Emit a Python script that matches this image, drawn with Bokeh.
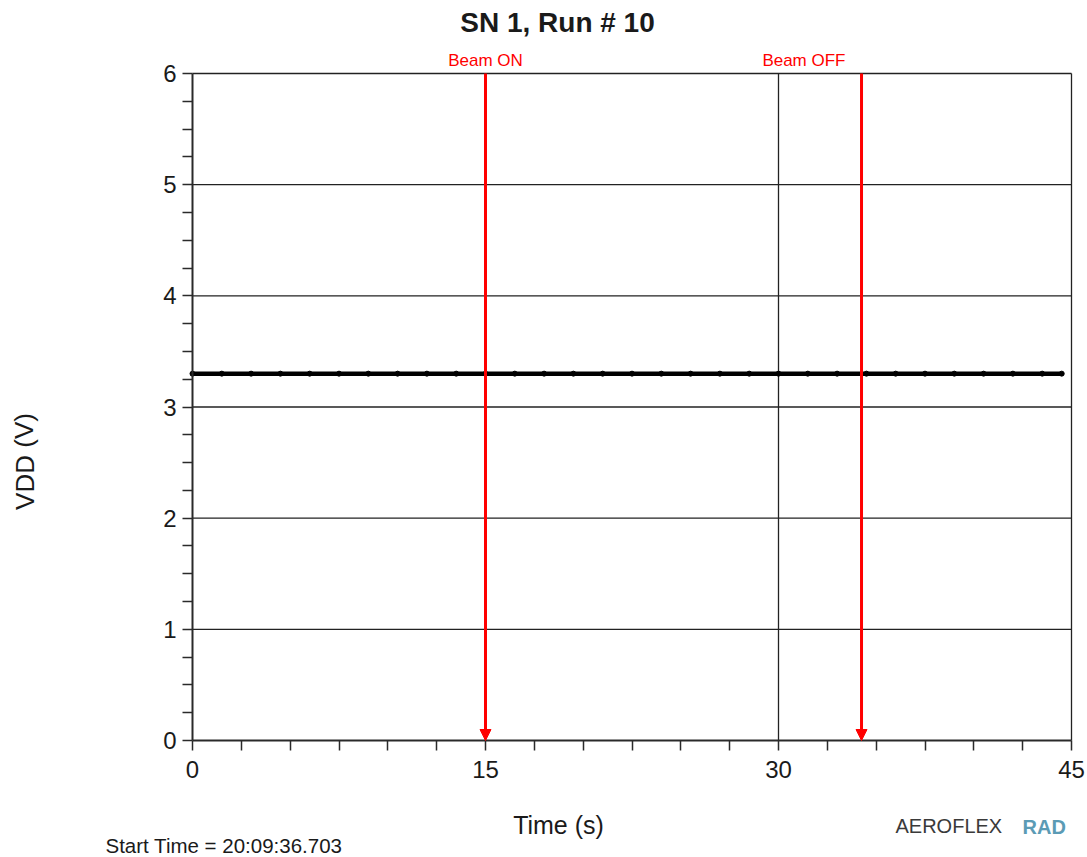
from bokeh.plotting import figure
from bokeh.models import Label, Arrow, NormalHead, FixedTicker, Range1d
from bokeh.embed import file_html
from bokeh.resources import INLINE

# Supply voltage log for one run
time_s = [0.0, 1.5, 3.0, 4.5, 6.0, 7.5, 9.0, 10.5, 12.0, 13.5, 15.0, 16.5,
          18.0, 19.5, 21.0, 22.5, 24.0, 25.5, 27.0, 28.5, 30.0, 31.5, 33.0,
          34.5, 36.0, 37.5, 39.0, 40.5, 42.0, 43.5, 44.5]
vdd_v = [3.30, 3.30, 3.30, 3.30, 3.30, 3.30, 3.30, 3.30, 3.30, 3.30, 3.30,
         3.30, 3.30, 3.30, 3.30, 3.30, 3.30, 3.30, 3.30, 3.30, 3.30, 3.30,
         3.30, 3.30, 3.30, 3.30, 3.30, 3.30, 3.30, 3.30, 3.30]

beam_on_s = 15.0
beam_off_s = 34.25

x_ticks = [0, 15, 30, 45]
y_ticks = [0, 1, 2, 3, 4, 5, 6]
x_minor = [2.5, 5, 7.5, 10, 12.5, 17.5, 20, 22.5, 25, 27.5, 32.5, 35, 37.5, 40, 42.5]
y_minor = [v / 4 for v in range(0, 25) if v % 4]

title_text = "SN 1, Run # 10"
x_title = "Time (s)"
y_title = "VDD (V)"
start_text = "Start Time = 20:09:36.703"

# Page geometry: the canvas is the frame, the data box sits inside it
W, H = 1087, 857
BOX_L, BOX_R, BOX_T, BOX_B = 192, 1071, 73, 740
X0, X1 = x_ticks[0], x_ticks[-1]
Y0, Y1 = y_ticks[0], y_ticks[-1]
SX = (BOX_R - BOX_L) / (X1 - X0)
SY = (BOX_B - BOX_T) / (Y1 - Y0)


def dx(px):
    return X0 + (px - BOX_L) / SX


def dy(py):
    return Y0 + (BOX_B - py) / SY


FONT = "Liberation Sans"
INK = "#1a1a1a"
RED = "#ff0000"

p = figure(width=W, height=H, output_backend="svg", toolbar_location=None,
           x_range=Range1d(dx(0), dx(W)), y_range=Range1d(dy(H), dy(0)),
           min_border=0)
p.background_fill_color = "white"
p.border_fill_color = "white"
p.outline_line_color = None
p.xgrid.visible = False
p.ygrid.visible = False

# Axes pinned to the data box
for ax, ticks, minor, loc in ((p.xaxis[0], x_ticks, x_minor, Y0),
                              (p.yaxis[0], y_ticks, y_minor, X0)):
    ax.fixed_location = loc
    ax.bounds = (ticks[0], ticks[-1])
    ax.ticker = FixedTicker(ticks=ticks, minor_ticks=minor)
    ax.axis_line_color = "#2a2a2a"
    ax.axis_line_width = 2
    ax.major_tick_line_color = "#2a2a2a"
    ax.minor_tick_line_color = "#2a2a2a"
    ax.major_tick_line_width = 1.5
    ax.minor_tick_line_width = 1.5
    ax.major_tick_in = 0
    ax.minor_tick_in = 0
    ax.major_tick_out = 10
    ax.minor_tick_out = 10
    ax.major_label_text_font = FONT
    ax.major_label_text_font_size = "24px"
    ax.major_label_text_color = INK

p.xaxis.major_label_standoff = 10
p.yaxis.major_label_standoff = 6

# Grid lines and box border (top and right)
h_grid = y_ticks[1:]
v_grid = x_ticks[1:]
p.segment(x0=[X0] * len(h_grid), y0=h_grid, x1=[X1] * len(h_grid), y1=h_grid,
          line_color="#222222", line_width=1.3)
p.segment(x0=v_grid, y0=[Y0] * len(v_grid), x1=v_grid, y1=[Y1] * len(v_grid),
          line_color="#222222", line_width=1.3)

# VDD trace
p.line(time_s, vdd_v, line_color="black", line_width=4.5)
p.scatter(time_s, vdd_v, size=5, color="black")

# Beam markers
for t in (beam_on_s, beam_off_s):
    p.add_layout(Arrow(end=NormalHead(size=11, fill_color=RED, line_color=RED),
                       x_start=t, y_start=Y1, x_end=t, y_end=Y0,
                       line_color=RED, line_width=3))
p.add_layout(Label(x=beam_on_s, y=dy(60), text="Beam ON", text_align="center",
                   text_baseline="middle", text_font=FONT, text_font_size="17px",
                   text_color=RED))
p.add_layout(Label(x=dx(845), y=dy(60), text="Beam OFF", text_align="right",
                   text_baseline="middle", text_font=FONT, text_font_size="17px",
                   text_color=RED))

# Title and captions
p.add_layout(Label(x=dx(557), y=dy(22), text=title_text, text_align="center",
                   text_baseline="middle", text_font=FONT, text_font_size="28px",
                   text_font_style="bold", text_color=INK))
p.add_layout(Label(x=dx(558), y=dy(824), text=x_title, text_align="center",
                   text_baseline="middle", text_font=FONT, text_font_size="25px",
                   text_color=INK))
p.add_layout(Label(x=dx(24), y=dy(461), text=y_title, text_align="center",
                   text_baseline="middle", angle=1.5708, text_font=FONT,
                   text_font_size="26px", text_color=INK))
p.add_layout(Label(x=dx(105), y=dy(845), text=start_text, text_align="left",
                   text_baseline="middle", text_font=FONT, text_font_size="20.5px",
                   text_color=INK))

# Vendor mark
p.add_layout(Label(x=dx(895), y=dy(825), text="AEROFLEX", text_align="left",
                   text_baseline="middle", text_font=FONT, text_font_size="20px",
                   text_color="#3a3a3a"))
p.add_layout(Label(x=dx(1022), y=dy(826), text="RAD", text_align="left",
                   text_baseline="middle", text_font=FONT, text_font_size="20px",
                   text_font_style="bold", text_color="#5b9bb5"))

open("out.html", "w").write(file_html(p, INLINE))
